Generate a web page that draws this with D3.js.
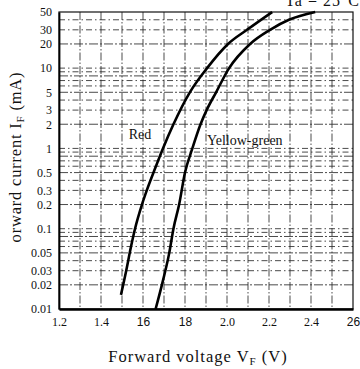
<!DOCTYPE html>
<html>
<head>
<meta charset="utf-8">
<script src="https://cdn.jsdelivr.net/npm/d3@7"></script>
<style>
  body { margin: 0; background: #fff; }
  svg { display: block; }
  text { font-family: "Liberation Serif", "DejaVu Serif", serif; fill: #111; }
</style>
</head>
<body>
<div id="chart"></div>
<script>
const width = 360,
   height = 369,
   margin = {top: 12, right: 7, bottom: 60, left: 59};

// tick values and the labels as printed on the sheet
const voltTicks = [1.2, 1.4, 1.6, 1.8, 2.0, 2.2, 2.4, 2.6];
const voltLabels = ['1.2', '1.4', '16', '18', '2.0', '2.2', '2.4', '26'];
const currentTicks = [50, 30, 20, 10, 5, 3, 2, 1, 0.5, 0.3, 0.2, 0.1, 0.05, 0.03, 0.02, 0.01];
const currentLabels = ['50', '30', '20', '10', '5', '3', '2', '1', '0.5', '0.3', '0.2', '0.1', '0.05', '0.03', '0.02', '0.01'];

// forward voltage (V) / forward current (mA)
const redVolts = [1.495, 1.52, 1.543, 1.562, 1.595, 1.618, 1.65, 1.695, 1.745, 1.823, 1.905, 2.005, 2.095, 2.215];
const redCurrent = [0.015, 0.03, 0.06, 0.1, 0.2, 0.3, 0.5, 1, 2, 5, 10, 20, 30, 50];
const ygVolts = [1.66, 1.69, 1.725, 1.745, 1.772, 1.80, 1.835, 1.874, 1.903, 1.948, 2.01, 2.11, 2.205, 2.295, 2.42];
const ygCurrent = [0.01, 0.02, 0.05, 0.1, 0.2, 0.5, 1, 2, 3, 5, 10, 20, 30, 40, 50];

const seriesNames = ['Red', 'Yellow-green'];
const labelVolts = [1.586, 1.905];
const labelCurrent = [1.5, 1.27];

const svg = d3.select('#chart')
   .append('svg')
   .attr('width', width)
   .attr('height', height);

const x = d3.scaleLinear()
   .domain([1.2, 2.6])
   .range([margin.left, width - margin.right]);

const y = d3.scaleLog()
   .domain([0.01, 50])
   .range([height - margin.bottom, margin.top]);

// grid
const gridV = d3.range(13, 26).map(d => d / 10);
const gridH = [];
[0.01, 0.1, 1, 10].forEach(dec => {
   d3.range(1, 10).forEach(k => {
      const v = +(dec * k).toPrecision(3);
      if (v > 0.01 && v < 50) gridH.push(v);
   });
});

svg.append('g')
   .selectAll('line')
   .data(gridH)
   .join('line')
   .attr('x1', x(1.2))
   .attr('x2', x(2.6))
   .attr('y1', d => y(d))
   .attr('y2', d => y(d))
   .attr('stroke', '#2a2a2a')
   .attr('stroke-width', 0.85)
   .attr('stroke-dasharray', (d, i) => i % 3 === 0 ? '9,2,2,2' : '6,3,1.5,3');

svg.append('g')
   .selectAll('line')
   .data(gridV)
   .join('line')
   .attr('x1', d => x(d))
   .attr('x2', d => x(d))
   .attr('y1', y(50))
   .attr('y2', y(0.01))
   .attr('stroke', '#2a2a2a')
   .attr('stroke-width', 0.85)
   .attr('stroke-dasharray', '8,2,1.5,2');

// frame
svg.append('rect')
   .attr('x', x(1.2))
   .attr('y', y(50))
   .attr('width', x(2.6) - x(1.2))
   .attr('height', y(0.01) - y(50))
   .attr('fill', 'none')
   .attr('stroke', '#111')
   .attr('stroke-width', 1.2);

// axes
const xAxis = svg.append('g')
   .attr('transform', `translate(0, ${y(0.01)})`)
   .call(d3.axisBottom(x)
      .tickValues(voltTicks)
      .tickSize(0)
      .tickPadding(8)
      .tickFormat((d, i) => voltLabels[i]));
xAxis.select('.domain').attr('stroke', '#000').attr('stroke-width', 2.6);
xAxis.selectAll('text')
   .attr('font-size', 12)
   .style('font-family', (d, i) => voltLabels[i].includes('.') ? null : '"Liberation Sans", Arial, sans-serif');

const yAxis = svg.append('g')
   .attr('transform', `translate(${x(1.2)}, 0)`)
   .call(d3.axisLeft(y)
      .tickValues(currentTicks)
      .tickSize(0)
      .tickPadding(7)
      .tickFormat((d, i) => currentLabels[i]));
yAxis.select('.domain').attr('stroke', '#000').attr('stroke-width', 1.8);
yAxis.selectAll('text').attr('font-size', 12);

// curves
const line = d3.line()
   .x(d => x(d[0]))
   .y(d => y(d[1]))
   .curve(d3.curveMonotoneX);

svg.append('path')
   .datum(redVolts.map((v, i) => [v, redCurrent[i]]))
   .attr('d', line)
   .attr('fill', 'none')
   .attr('stroke', '#000')
   .attr('stroke-width', 2.6);

svg.append('path')
   .datum(ygVolts.map((v, i) => [v, ygCurrent[i]]))
   .attr('d', line)
   .attr('fill', 'none')
   .attr('stroke', '#000')
   .attr('stroke-width', 2.6);

svg.selectAll('.series-label')
   .data(seriesNames)
   .join('text')
   .attr('class', 'series-label')
   .attr('x', (d, i) => x(labelVolts[i]))
   .attr('y', (d, i) => y(labelCurrent[i]))
   .attr('dy', '0.35em')
   .attr('text-anchor', (d, i) => i === 0 ? 'middle' : 'start')
   .attr('font-size', 14)
   .text(d => d);

// titles
const yTitle = svg.append('text')
   .attr('transform', `translate(21, 157) rotate(-90)`)
   .attr('text-anchor', 'middle')
   .attr('font-size', 16.5)
   .attr('letter-spacing', 0.8);
yTitle.append('tspan').text('orward current I');
yTitle.append('tspan').attr('font-size', 11).attr('dy', 3).text('F');
yTitle.append('tspan').attr('dy', -3).text(' (mA)');

const xTitle = svg.append('text')
   .attr('x', 198)
   .attr('y', 362)
   .attr('text-anchor', 'middle')
   .attr('font-size', 16.5)
   .attr('letter-spacing', 1);
xTitle.append('tspan').text('Forward voltage V');
xTitle.append('tspan').attr('font-size', 11).attr('dy', 3).text('F');
xTitle.append('tspan').attr('dy', -3).text(' (V)');

// condition note, cut by the top edge as on the sheet
svg.append('text')
   .attr('x', 360)
   .attr('y', 6)
   .attr('text-anchor', 'end')
   .attr('font-size', 16)
   .attr('letter-spacing', 1)
   .text('Ta = 25°C');
</script>
</body>
</html>
